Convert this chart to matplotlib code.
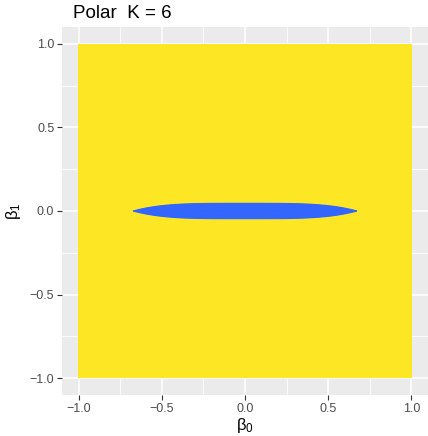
import numpy as np
import matplotlib
matplotlib.use("Agg")
import matplotlib.pyplot as plt
from matplotlib.colors import ListedColormap

# region description
title = "Polar  K = 6"
x_ticks = [-1.0, -0.5, 0.0, 0.5, 1.0]
y_ticks = [-1.0, -0.5, 0.0, 0.5, 1.0]
tick_labels = ['\u22121.0', '\u22120.5', '0.0', '0.5', '1.0']
minor_ticks = [-0.75, -0.25, 0.25, 0.75]
lens_half_width = 0.67    # beta0 extent of outer contour
lens_half_height = 0.045  # beta1 extent of outer contour at beta0 = 0
lens_power = 4
contour_levels = [0.1, 0.2, 0.3, 0.4, 0.5, 0.58, 0.65, 0.72, 0.8, 0.87, 0.93, 1.0]

plt.rcParams['font.family'] = ['Liberation Sans', 'DejaVu Sans']
plt.rcParams['mathtext.fontset'] = 'custom'
plt.rcParams['mathtext.rm'] = 'Liberation Sans'
plt.rcParams['mathtext.it'] = 'Liberation Sans'

fig = plt.figure(figsize=(4.28, 4.36), dpi=100)
ax = fig.add_axes([62 / 428, 1 - 395 / 436, 366 / 428, 368 / 436])
ax.set_facecolor('#EBEBEB')

# grid
for v in minor_ticks:
    ax.axvline(v, color='white', lw=0.6, zorder=0)
    ax.axhline(v, color='white', lw=0.6, zorder=0)
for v in x_ticks:
    ax.axvline(v, color='white', lw=1.1, zorder=0)
    ax.axhline(v, color='white', lw=1.1, zorder=0)

b0 = np.linspace(-1, 1, 801)
b1 = np.linspace(-1, 1, 1601)
B0, B1 = np.meshgrid(b0, b1)
F = np.abs(B0 / lens_half_width) ** lens_power + np.abs(B1) / lens_half_height

fill = np.where(F >= 1.0, 1.0, np.where(F > 0.3, 0.6, 0.0))
cmap = ListedColormap(['#3366FF', '#A3D23A', '#FDE725'])
ax.pcolormesh(B0, B1, fill, cmap=cmap, vmin=0, vmax=1, shading='auto',
              zorder=1, rasterized=True)
ax.contour(B0, B1, F, levels=contour_levels, colors='#3366FF',
           linewidths=1.0, zorder=2)

ax.set_xlim(-1.1, 1.1)
ax.set_ylim(-1.1, 1.1)
ax.set_xticks(x_ticks)
ax.set_yticks(y_ticks)
ax.set_xticklabels(tick_labels)
ax.set_yticklabels(tick_labels)
ax.tick_params(axis='both', colors='#333333', labelcolor='#4D4D4D',
               labelsize=9, length=3.5, width=0.8, pad=2)
for s in ax.spines.values():
    s.set_visible(False)

ax.set_xlabel(r'$\mathrm{\beta}_\mathrm{0}$', fontsize=12, labelpad=1)
ax.set_ylabel(r'$\mathrm{\beta}_\mathrm{1}$', fontsize=12, labelpad=5)
fig.text(73 / 428, 1 - 13 / 436, title, fontsize=13.5, va='center', ha='left')

fig.savefig('out.png', dpi=100)
